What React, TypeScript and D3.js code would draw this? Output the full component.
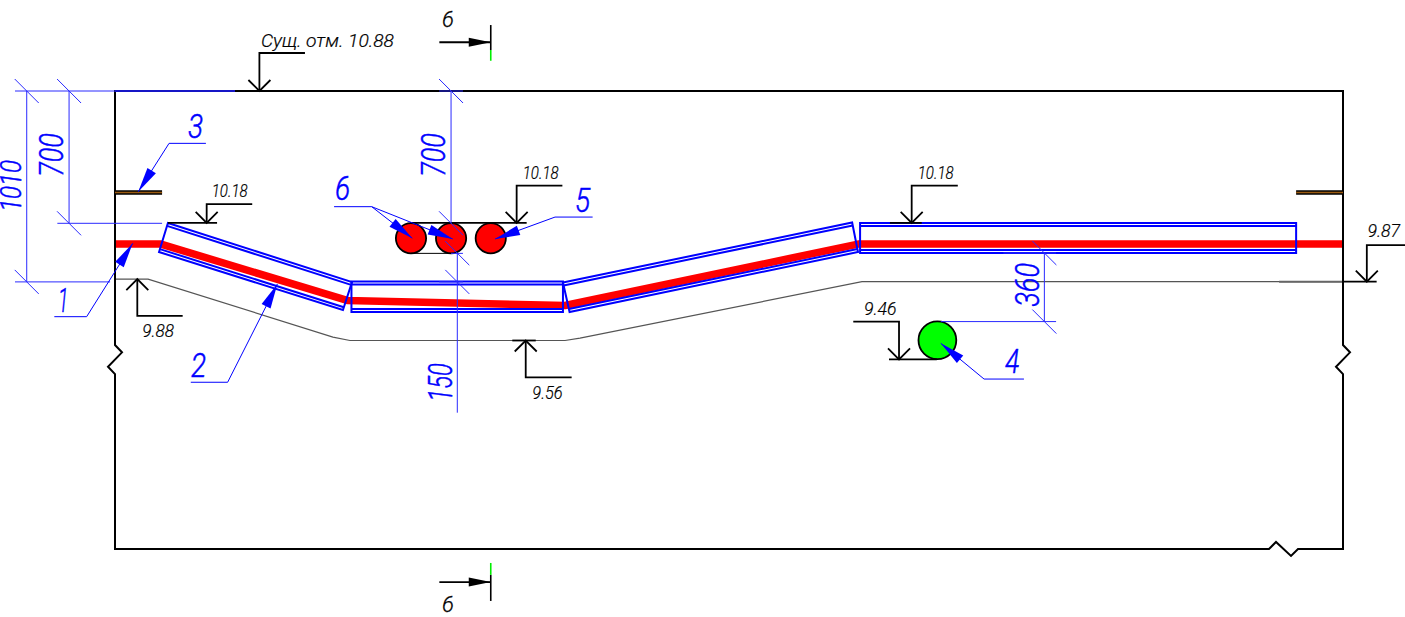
import React from "react";
import * as d3 from "d3";

type P = [number, number];

// Geometry in drawing units: millimetres along the section (station) and below the top surface (depth).
const sectionWidth = 6497;
const sectionDepth = 2423;
const heatingPipe: P[] = [[0, 810], [243, 810], [1228, 1108], [2381, 1135], [3931, 810], [6497, 810]];
const groundProfile: P[] = [[0, 995], [175, 995], [1153, 1302], [1243, 1320], [2381, 1320], [2460, 1307], [3952, 1009], [6497, 1009]];
const groundEdge: P[] = [[6159, 1009], [6497, 1009]];
const casings: P[][] = [
  [[280, 698], [1254, 1011], [1206, 1159], [233, 852]],
  [[1251, 1008], [2370, 1008], [2370, 1169], [1251, 1169]],
  [[2370, 1013], [3900, 696], [3931, 852], [2405, 1169]],
  [[3942, 698], [6249, 698], [6249, 857], [3942, 857]],
];
const stubs: P[][] = [[[0, 537], [249, 537]], [[6249, 537], [6497, 537]]];
const redCables: [number, number, number][] = [[1566, 779, 80], [1778, 779, 80], [1988, 779, 80]];
const greenPipe: [number, number, number] = [4351, 1319, 100];

const frameNavy: P[] = [[0, 0], [635, 0]];

// Vertical dimensions
const dimStations = [-467, -243, 1778, 1811, 4917];
const dimFrom = [0, 0, 0, 858, 857];
const dimTo = [1010, 700, 700, 1010, 1220];
const dimEnd = [1010, 700, 700, 1702, 1220];
const dimLabels = ["1010", "700", "700", "150", "360"];
const dimTextStation = [-497, -274, 1746, 1781, 4890];
const dimTextMidDepth = [502, 339, 339, 1542, 1026];
const dimTextLength = [275, 230, 230, 203, 232];
const dimFontSize = [30, 34, 34, 34, 34];
const extensionLines: [number, number, number][] = [
  [-529, 635, 0], [-529, -26, 1010], [-305, 249, 700], [1715, 1841, 0],
  [1778, 1841, 859], [1715, 1841, 1010], [4369, 4979, 1220], [4700, 4979, 857],
];

// Numbered callouts
const calloutLabels = ["1", "2", "3", "4", "5", "6"];
const calloutShelfFar = [-321, 401, 481, 4809, 2527, 1159];
const calloutShelfKnee = [-150, 596, 286, 4598, 2328, 1358];
const calloutShelfDepth = [1194, 1541, 277, 1524, 667, 612];
const calloutTips: P[][] = [
  [[94, 806]], [[859, 1021]], [[123, 533]], [[4369, 1335]], [[2011, 783]], [[1573, 779], [1787, 783]],
];
const calloutTextX = [-302, 402, 386, 4709, 2434, 1164];
const calloutTextDepth = [1168, 1512, 249, 1492, 639, 577];
const calloutTextLen = [55, 80, 80, 76, 80, 80];

// Elevation marks
const elevLabels = ["Сущ. отм. 10.88", "10.18", "10.18", "10.18", "9.88", "9.56", "9.46", "9.87"];
const elevStem = [764, 485, 2125, 4215, 118, 2173, 4148, 6623];
const elevDepth = [0, 698, 698, 698, 995, 1320, 1420, 1009];
const elevShelfDepth = [-201, 599, 501, 501, 1190, 1515, 1220, 815];
const elevShelfEnd = [1005, 726, 2367, 4459, 358, 2416, 3906, 6825];
const elevTextX = [772, 512, 2157, 4247, 144, 2208, 3963, 6626];
const elevTextDepth = [-234, 559, 467, 466, 1300, 1630, 1185, 771];
const elevTextLen = [704, 190, 190, 190, 168, 160, 172, 173];
const elevBaseFrom = [764, 280, 1561, 4100, 118, 2102, 4095, 6497];
const elevBaseTo = [764, 540, 2178, 4268, 118, 2226, 4348, 6675];

const sectionStation = 1988;
const sectionTail = 1716;
const sectionArrowDepth = [-258, 2598];
const sectionBlack: P[] = [[-349, -217], [2560, 2698]];
const sectionGreen: P[] = [[-217, -160], [2497, 2560]];
const sectionTextX = 1730;
const sectionTextDepth = [-337, 2754];

const W = 1405;
const H = 617;
const BLUE = "#0000ff";
const DIM = "#2a2aff";
const FONT = "Roboto,'Liberation Sans',sans-serif";
const k = 1228 / sectionWidth;
const x = d3.scaleLinear().domain([0, sectionWidth]).range([115, 1343]);
const y = d3.scaleLinear().domain([0, sectionDepth]).range([91, 91 + sectionDepth * k]);
const path = d3.line<P>().x((d) => x(d[0])).y((d) => y(d[1]));
const lerp = (a: P, b: P, t: number): P => [a[0] + (b[0] - a[0]) * t, a[1] + (b[1] - a[1]) * t];

function Arrow({ from, tip, length = 25, half = 5, fill = BLUE }: { from: number[]; tip: number[]; length?: number; half?: number; fill?: string }) {
  const dx = tip[0] - from[0];
  const dy = tip[1] - from[1];
  const l = Math.hypot(dx, dy);
  const ux = dx / l, uy = dy / l;
  const bx = tip[0] - ux * length, by = tip[1] - uy * length;
  const pts = [[tip[0], tip[1]], [bx - uy * half, by + ux * half], [bx + uy * half, by - ux * half]];
  return <polygon points={pts.map((p) => p.join(",")).join(" ")} fill={fill} />;
}

function frameOutline() {
  const zigV = (xx: number, d: number) => [[xx, y(d)], [xx + 7, y(d) + 7.3], [xx - 7, y(d) + 21.7], [xx, y(d) + 29]];
  const zr = zigV(x(sectionWidth), 1344);
  const zl = zigV(x(0), 1344).reverse();
  const by = y(sectionDepth);
  const pts = [
    [x(0), y(0)], [x(sectionWidth), y(0)], ...zr, [x(sectionWidth), by],
    [1298, by], [1291, by + 7], [1276, by - 7], [1269, by], [x(0), by], ...zl, [x(0), y(0)],
  ];
  return "M" + pts.map((p) => p.join(",")).join("L") + "Z";
}

export default function App() {
  return (
    <svg width={W} height={H} viewBox={`0 0 ${W} ${H}`} style={{ position: "absolute", left: 0, top: 0, display: "block", background: "#fff" }}>
      {/* ground */}
      <path d={path(groundProfile)!} fill="none" stroke="#555" strokeWidth={1.2} />
      <path d={path(groundEdge)!} fill="none" stroke="#666" strokeWidth={2} />

      {/* heating pipe */}
      <path d={path(heatingPipe)!} fill="none" stroke="#ff0000" strokeWidth={7.5} strokeLinejoin="bevel" />

      {/* frame */}
      <path d={frameOutline()} fill="none" stroke="#000" strokeWidth={2} strokeLinejoin="miter" />
      <path d={path(frameNavy)!} stroke="#00008c" strokeWidth={2} fill="none" />

      {/* casings */}
      {casings.map((c, i) => {
        const top: P[] = [lerp(c[0], c[3], 0.1), lerp(c[1], c[2], 0.1)];
        const bot: P[] = [lerp(c[0], c[3], 0.9), lerp(c[1], c[2], 0.9)];
        return (
          <g key={i} fill="none" stroke={BLUE} strokeWidth={2}>
            <path d={path(c)! + "Z"} />
            <path d={path(top)!} />
            <path d={path(bot)!} />
          </g>
        );
      })}

      {/* stubs */}
      {stubs.map((s, i) => (
        <g key={i} fill="none">
          <path d={path(s)!} stroke="#000" strokeWidth={4.5} />
          <path d={path(s)!} stroke="#9a5a10" strokeWidth={1.5} />
        </g>
      ))}

      {/* cables and pipe */}
      {redCables.map((c, i) => (
        <circle key={i} cx={x(c[0])} cy={y(c[1])} r={c[2] * k} fill="#ff0000" stroke="#000" strokeWidth={1.8} />
      ))}
      <circle cx={x(greenPipe[0])} cy={y(greenPipe[1])} r={greenPipe[2] * k} fill="#00ff00" stroke="#000" strokeWidth={1.8} />
      <path d={path([[1566, 859], [1778, 859]])!} stroke="#000" strokeWidth={1} fill="none" />

      {/* elevation marks */}
      {elevLabels.map((t, i) => {
        const up = elevShelfDepth[i] > elevDepth[i];
        const sx = x(elevStem[i]);
        const by = y(elevDepth[i]);
        const c = up ? 11 : -11;
        return (
          <g key={i} fill="none" stroke="#000" strokeWidth={1.8}>
            <path d={path([[elevShelfEnd[i], elevShelfDepth[i]], [elevStem[i], elevShelfDepth[i]], [elevStem[i], elevDepth[i]]])!} />
            <path d={`M${sx - 11},${by + c}L${sx},${by}L${sx + 11},${by + c}`} />
            {elevBaseFrom[i] !== elevBaseTo[i] && <path d={path([[elevBaseFrom[i], elevDepth[i]], [elevBaseTo[i], elevDepth[i]]])!} />}
            <text x={x(elevTextX[i])} y={y(elevTextDepth[i])} textLength={elevTextLen[i] * k} lengthAdjust="spacingAndGlyphs"
              fontFamily={FONT} fontStyle="italic" fontWeight={300} fontSize={18} fill="#000" stroke="#000" strokeWidth={0.2}>{t}</text>
          </g>
        );
      })}

      {/* dimensions */}
      {extensionLines.map((e, i) => (
        <path key={i} d={path([[e[0], e[2]], [e[1], e[2]]])!} stroke={DIM} strokeWidth={1} fill="none" />
      ))}
      {dimLabels.map((t, i) => {
        const xx = x(dimStations[i]);
        const ticks = [dimFrom[i], dimTo[i]];
        return (
          <g key={i}>
            <path d={path([[dimStations[i], dimFrom[i]], [dimStations[i], dimEnd[i]]])!} stroke={DIM} strokeWidth={1} fill="none" />
            {ticks.map((d) => (
              <path key={d} d={`M${xx - 12},${y(d) - 12}L${xx + 12},${y(d) + 12}`} stroke={DIM} strokeWidth={1} fill="none" />
            ))}
            <text transform={`translate(${x(dimTextStation[i])},${y(dimTextMidDepth[i])}) rotate(-90)`} textAnchor="middle"
              textLength={dimTextLength[i] * k} lengthAdjust="spacingAndGlyphs"
              fontFamily={FONT} fontStyle="italic" fontWeight={300} fontSize={dimFontSize[i]} fill={BLUE} stroke={BLUE} strokeWidth={0.5}>{t}</text>
          </g>
        );
      })}

      {/* callouts */}
      {calloutLabels.map((t, i) => {
        const kn: P = [calloutShelfKnee[i], calloutShelfDepth[i]];
        const knee = [x(kn[0]), y(kn[1])];
        return (
          <g key={i}>
            <path d={path([[calloutShelfFar[i], calloutShelfDepth[i]], kn])!} stroke={BLUE} strokeWidth={1} fill="none" />
            {calloutTips[i].map((tp, j) => {
              const tip = [x(tp[0]), y(tp[1])];
              return (
                <g key={j}>
                  <path d={path([kn, tp])!} stroke={BLUE} strokeWidth={1} fill="none" />
                  <Arrow from={knee} tip={tip} />
                </g>
              );
            })}
            <text x={x(calloutTextX[i])} y={y(calloutTextDepth[i])} textLength={calloutTextLen[i] * k} lengthAdjust="spacingAndGlyphs"
              fontFamily={FONT} fontStyle="italic" fontWeight={300} fontSize={34} fill={BLUE} stroke={BLUE} strokeWidth={0.5}>{t}</text>
          </g>
        );
      })}

      {/* section marks */}
      {sectionArrowDepth.map((d, i) => (
        <g key={i}>
          <path d={path([[sectionTail, d], [sectionStation, d]])!} stroke="#000" strokeWidth={1.8} fill="none" />
          <Arrow from={[x(sectionTail), y(d)]} tip={[x(sectionStation), y(d)]} length={22} half={4.5} fill="#000" />
          <path d={path([[sectionStation, sectionBlack[i][0]], [sectionStation, sectionBlack[i][1]]])!} stroke="#000" strokeWidth={1.6} fill="none" />
          <path d={path([[sectionStation, sectionGreen[i][0]], [sectionStation, sectionGreen[i][1]]])!} stroke="#00ee00" strokeWidth={1.6} fill="none" />
          <text x={x(sectionTextX)} y={y(sectionTextDepth[i])} fontFamily={FONT} fontStyle="italic" fontWeight={300} fontSize={22} fill="#000" stroke="#000" strokeWidth={0.3}>6</text>
        </g>
      ))}
    </svg>
  );
}
